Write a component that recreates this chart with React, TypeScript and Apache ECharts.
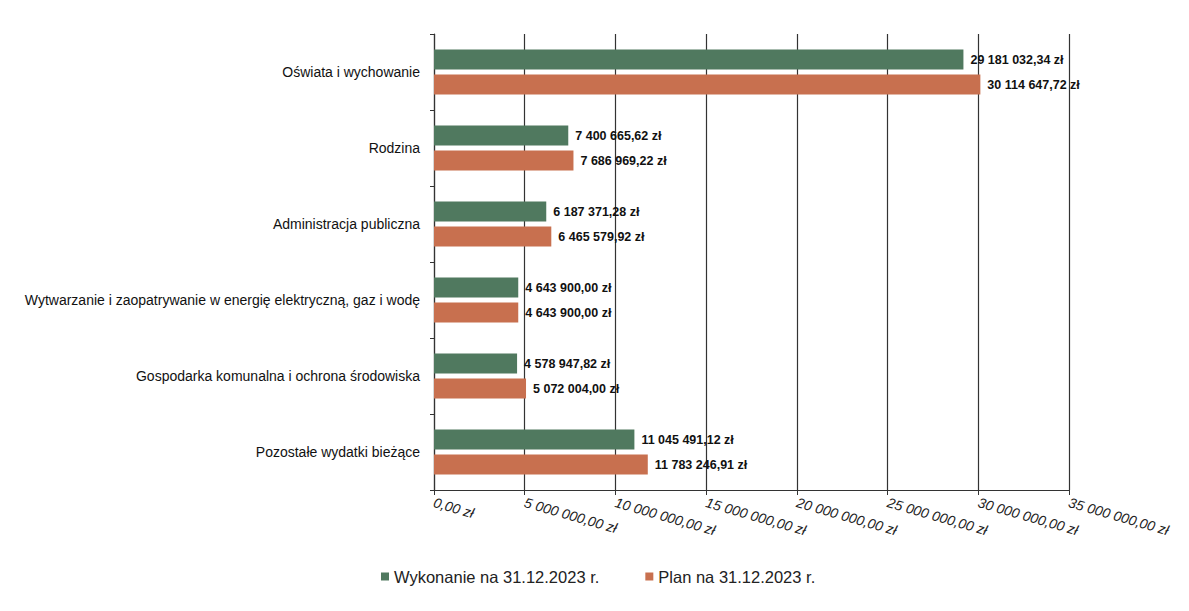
import React, { useEffect, useRef } from "react";
import * as echarts from "echarts";

const categories = [
  "Oświata i wychowanie",
  "Rodzina",
  "Administracja publiczna",
  "Wytwarzanie i zaopatrywanie w energię elektryczną, gaz i wodę",
  "Gospodarka komunalna i ochrona środowiska",
  "Pozostałe wydatki bieżące",
];
const wykonanie = [29181032.34, 7400665.62, 6187371.28, 4643900.0, 4578947.82, 11045491.12];
const plan = [30114647.72, 7686969.22, 6465579.92, 4643900.0, 5072004.0, 11783246.91];
const seriesNames = ["Wykonanie na 31.12.2023 r.", "Plan na 31.12.2023 r."];

function fmt(v: number): string {
  const fixed = Math.abs(v).toFixed(2);
  const [int, dec] = fixed.split(".");
  const grouped = int.replace(/\B(?=(\d{3})+(?!\d))/g, " ");
  return (v < 0 ? "-" : "") + grouped + "," + dec + " zł";
}

export default function App() {
  const ref = useRef<HTMLDivElement>(null);
  useEffect(() => {
    document.body.style.margin = "0";
    const chart = echarts.init(ref.current!, undefined, { renderer: "svg" });
    const labelStyle = {
      show: true,
      position: "right" as const,
      distance: 7,
      color: "#111",
      fontFamily: "Liberation Sans, Arial, sans-serif",
      fontWeight: "bold" as const,
      fontSize: 12.5,
      formatter: (p: any) => fmt(p.value),
    };
    chart.setOption({
      animation: false,
      backgroundColor: "#ffffff",
      textStyle: { fontFamily: "Liberation Sans, Arial, sans-serif" },
      grid: { left: 434, right: 120, top: 34, bottom: 121, containLabel: false },
      legend: {
        bottom: 21,
        left: 376,
        itemWidth: 8,
        itemHeight: 8,
        itemGap: 46,
        icon: "rect",
        textStyle: { fontSize: 16.5, color: "#222", fontFamily: "Liberation Sans, Arial, sans-serif" },
        data: seriesNames,
      },
      xAxis: {
        type: "value",
        min: 0,
        max: 35000000,
        interval: 5000000,
        axisLine: { show: true, lineStyle: { color: "#333", width: 1.2 } },
        axisTick: { show: true, length: 5, lineStyle: { color: "#333" } },
        splitLine: { show: true, lineStyle: { color: "#333", width: 1.2 } },
        axisLabel: {
          rotate: -16,
          fontSize: 14,
          fontStyle: "italic",
          color: "#222",
          margin: 12,
          formatter: (v: number) => fmt(v),
        },
      },
      yAxis: {
        type: "category",
        data: categories,
        inverse: true,
        axisLine: { show: true, lineStyle: { color: "#333", width: 1.2 } },
        axisTick: { show: true, length: 4, lineStyle: { color: "#333" } },
        axisLabel: { fontSize: 14, color: "#111", margin: 14, fontWeight: 500 },
      },
      series: [
        {
          name: seriesNames[0],
          type: "bar",
          data: wykonanie,
          barWidth: 20,
          barGap: "25%",
          itemStyle: { color: "#50795f" },
          label: labelStyle,
        },
        {
          name: seriesNames[1],
          type: "bar",
          data: plan,
          barWidth: 20,
          barGap: "25%",
          itemStyle: { color: "#c8704f" },
          label: labelStyle,
        },
      ],
    });
    return () => chart.dispose();
  }, []);
  return <div ref={ref} style={{ width: 1189, height: 611 }} />;
}
